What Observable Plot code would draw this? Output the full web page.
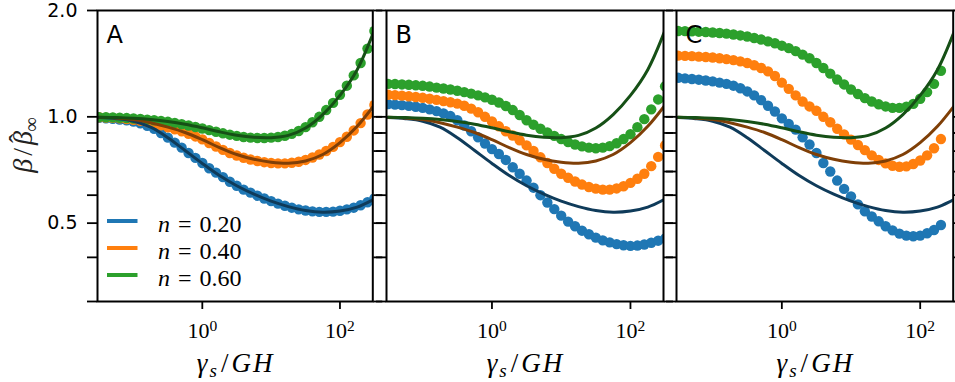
<!DOCTYPE html>
<html>
<head>
<meta charset="utf-8">
<script src="https://cdn.jsdelivr.net/npm/d3@7"></script>
<script src="https://cdn.jsdelivr.net/npm/@observablehq/plot@0.6"></script>
<style>
  html, body { margin: 0; padding: 0; background: #fff; overflow: hidden; }
  #chart { position: relative; width: 955px; height: 382px; }
  #chart > svg { position: absolute; left: 0; top: 0; }
  #chart text.serif, #chart text.serif tspan { font-family: "Liberation Serif", "DejaVu Serif", "Noto Serif", serif !important; }
</style>
</head>
<body>
<div id="chart"></div>
<script>
// ---- x positions (log10 of gamma_s / GH) ----
const expAB = [-1.5,-1.4,-1.3,-1.2,-1.1,-1.0,-0.9,-0.8,-0.7,-0.6,-0.5,-0.4,-0.3,-0.2,-0.1,0.0,0.1,0.2,0.3,0.4,0.5,0.6,0.7,0.8,0.9,1.0,1.1,1.2,1.3,1.4,1.5,1.6,1.7,1.8,1.9,2.0,2.1,2.2,2.3,2.4,2.5];
const expC  = [-1.5,-1.4,-1.3,-1.2,-1.1,-1.0,-0.9,-0.8,-0.7,-0.6,-0.5,-0.4,-0.3,-0.2,-0.1,0.0,0.1,0.2,0.3,0.4,0.5,0.6,0.7,0.8,0.9,1.0,1.1,1.2,1.3,1.4,1.5,1.6,1.7,1.8,1.9,2.0,2.1,2.2,2.3];
const expLine = [-1.5,-1.25,-1.0,-0.75,-0.5,-0.25,0,0.25,0.5,0.75,1.0,1.25,1.5,1.75,2.0,2.25,2.5];

// ---- theory curves (same in all panels) ----
const theoryN020 = [0.995,0.988,0.972,0.935,0.873,0.803,0.738,0.682,0.638,0.604,0.577,0.557,0.543,0.537,0.541,0.555,0.585];
const theoryN040 = [0.997,0.993,0.982,0.962,0.935,0.903,0.862,0.818,0.782,0.758,0.744,0.739,0.75,0.782,0.845,0.94,1.08];
const theoryN060 = [0.998,0.995,0.99,0.982,0.97,0.953,0.931,0.907,0.887,0.875,0.873,0.886,0.93,1.015,1.15,1.36,1.76];

// ---- panel A points ----
const dotsA_n020 = [0.993,0.99,0.987,0.982,0.977,0.97,0.958,0.943,0.925,0.90,0.873,0.845,0.818,0.79,0.765,0.74,0.715,0.695,0.675,0.655,0.638,0.622,0.61,0.598,0.587,0.577,0.568,0.56,0.553,0.547,0.543,0.54,0.538,0.538,0.539,0.542,0.547,0.553,0.562,0.573,0.587];
const dotsA_n040 = [0.997,0.995,0.993,0.99,0.986,0.981,0.974,0.966,0.956,0.946,0.934,0.922,0.91,0.895,0.88,0.863,0.843,0.824,0.806,0.79,0.777,0.766,0.757,0.75,0.744,0.74,0.738,0.738,0.741,0.746,0.755,0.767,0.782,0.80,0.822,0.848,0.878,0.915,0.96,1.015,1.08];
const dotsA_n060 = [0.998,0.997,0.996,0.994,0.992,0.989,0.986,0.982,0.978,0.973,0.968,0.961,0.953,0.945,0.936,0.927,0.917,0.907,0.898,0.89,0.883,0.877,0.873,0.871,0.871,0.873,0.877,0.884,0.895,0.912,0.935,0.965,1.0,1.045,1.095,1.155,1.225,1.31,1.42,1.56,1.75];

// ---- panel B points ----
const dotsB_n020 = [1.086,1.083,1.079,1.074,1.068,1.06,1.05,1.038,1.023,1.005,0.978,0.945,0.91,0.875,0.84,0.81,0.785,0.755,0.72,0.69,0.66,0.63,0.60,0.572,0.548,0.525,0.505,0.49,0.476,0.465,0.455,0.447,0.441,0.436,0.433,0.431,0.432,0.435,0.44,0.446,0.452];
const dotsB_n040 = [1.155,1.152,1.148,1.143,1.138,1.132,1.125,1.117,1.108,1.10,1.09,1.075,1.055,1.03,1.0,0.97,0.94,0.91,0.885,0.858,0.83,0.80,0.768,0.74,0.713,0.69,0.672,0.656,0.643,0.633,0.626,0.622,0.622,0.627,0.636,0.65,0.668,0.69,0.725,0.77,0.83];
const dotsB_n060 = [1.24,1.238,1.235,1.232,1.228,1.224,1.218,1.21,1.203,1.195,1.185,1.175,1.163,1.15,1.135,1.118,1.098,1.073,1.045,1.012,0.978,0.95,0.925,0.903,0.883,0.865,0.848,0.835,0.825,0.818,0.815,0.818,0.826,0.842,0.865,0.893,0.935,0.985,1.05,1.12,1.22];

// ---- panel C points ----
const dotsC_n020 = [1.29,1.285,1.28,1.274,1.267,1.26,1.25,1.24,1.225,1.205,1.18,1.15,1.115,1.075,1.035,0.99,0.955,0.92,0.875,0.835,0.79,0.74,0.70,0.66,0.625,0.595,0.565,0.54,0.522,0.506,0.49,0.477,0.467,0.461,0.459,0.461,0.468,0.478,0.494];
const dotsC_n040 = [1.49,1.488,1.485,1.481,1.477,1.472,1.465,1.457,1.447,1.435,1.42,1.40,1.375,1.345,1.305,1.25,1.20,1.15,1.105,1.07,1.04,1.0,0.965,0.925,0.892,0.862,0.832,0.805,0.778,0.755,0.738,0.727,0.722,0.724,0.735,0.752,0.778,0.815,0.865];
const dotsC_n060 = [1.75,1.748,1.745,1.742,1.738,1.733,1.727,1.72,1.71,1.70,1.688,1.672,1.655,1.635,1.615,1.59,1.565,1.535,1.50,1.465,1.42,1.375,1.325,1.275,1.235,1.195,1.16,1.13,1.105,1.085,1.07,1.06,1.06,1.068,1.088,1.125,1.175,1.24,1.35];

// ---- labels / ticks ----
const seriesN = ["0.20", "0.40", "0.60"];
const panelLetters = ["A", "B", "C"];
const xTicks = [1, 100];
const xTickExponents = ["0", "2"];
const yTicks = [0.3, 0.4, 0.5, 0.6, 0.7, 0.8, 0.9, 1, 2];
const yTickLabels = {0.5: "0.5", 1: "1.0", 2: "2.0"};

const dotColors = ["#1f77b4", "#ff7f0e", "#2ca02c"];
const lineColors = ["#0f3b5a", "#7f3f07", "#165016"];

(function draw() {
  const W = 955, H = 382;
  const frameTop = 10, frameBottom = 301;
  const panels = [
    {letter: panelLetters[0], left: 97,  right: 372.3, exps: expAB, dots: [dotsA_n020, dotsA_n040, dotsA_n060], yLabels: true},
    {letter: panelLetters[1], left: 386, right: 663,   exps: expAB, dots: [dotsB_n020, dotsB_n040, dotsB_n060], yLabels: false},
    {letter: panelLetters[2], left: 676, right: 952.7, exps: expC,  dots: [dotsC_n020, dotsC_n040, dotsC_n060], yLabels: false}
  ];
  const theory = [theoryN020, theoryN040, theoryN060];
  const chart = document.getElementById("chart");

  panels.forEach(p => {
    const marks = [];
    p.dots.forEach((vals, i) => {
      const rows = p.exps.map((e, j) => ({x: Math.pow(10, e), y: vals[j]}));
      marks.push(Plot.dot(rows, {x: "x", y: "y", r: 5.2, fill: dotColors[i], stroke: "none", clip: true}));
    });
    theory.forEach((vals, i) => {
      const rows = expLine.map((e, j) => ({x: Math.pow(10, e), y: vals[j]}));
      marks.push(Plot.line(rows, {x: "x", y: "y", stroke: lineColors[i], strokeWidth: 3, curve: "catmull-rom", clip: true}));
    });
    marks.push(Plot.text([p.letter], {text: d => d, frameAnchor: "top-left", dx: 9, dy: 15, lineAnchor: "top", textAnchor: "start", fontSize: 24, fontFamily: "DejaVu Sans", fill: "black"}));
    marks.push(Plot.axisX({ticks: xTicks, tickSize: 8, tickPadding: 13, strokeWidth: 1.8, label: null,
      tickFormat: d => "10" + xTickExponents[xTicks.indexOf(d)], fontSize: 22}));
    marks.push(Plot.axisY({anchor: "left", ticks: yTicks, tickSize: 10, tickPadding: 10, strokeWidth: 1.8, label: null,
      tickFormat: d => p.yLabels ? (yTickLabels[d] || "") : "", fontSize: 19, fontFamily: "DejaVu Sans"}));
    marks.push(Plot.axisY({anchor: "right", ticks: yTicks, tickSize: 9, strokeWidth: 1.8, label: null, tickFormat: () => ""}));
    marks.push(Plot.frame({stroke: "black", strokeWidth: 2}));

    const svg = Plot.plot({
      width: W, height: H,
      marginLeft: p.left, marginRight: W - p.right, marginTop: frameTop, marginBottom: H - frameBottom,
      style: {background: "transparent", overflow: "visible", color: "black", fontFamily: "DejaVu Sans"},
      x: {type: "log", domain: [0.03, 300], axis: null},
      y: {type: "log", domain: [0.3, 2], axis: null},
      marks
    });
    chart.appendChild(svg);
    const s = d3.select(svg);

    // superscript exponents on x tick labels (serif, like mathtext)
    s.selectAll('g[aria-label="x-axis tick label"] text').each(function() {
      const t = d3.select(this).classed("serif", true).style("font-size", "22px");
      const txt = t.text();
      t.text("");
      t.append("tspan").text(txt.slice(0, 2));
      t.append("tspan").attr("dy", "-7").style("font-size", "15.5px").text(txt.slice(2));
    });

    // x axis title
    const cx = (p.left + p.right) / 2;
    const xl = s.append("text").attr("class", "serif").attr("x", cx).attr("y", 371.5).attr("text-anchor", "middle")
      .attr("font-size", 27).attr("fill", "black");
    xl.append("tspan").attr("font-style", "italic").text("γ");
    xl.append("tspan").attr("font-style", "italic").attr("font-size", 19).attr("dy", 5).attr("dx", 2).text("s");
    xl.append("tspan").attr("dy", -5).attr("dx", 4).text("/");
    xl.append("tspan").attr("font-style", "italic").attr("dx", 3).text("G");
    xl.append("tspan").attr("font-style", "italic").attr("dx", 2).text("H");

    if (p.yLabels) {
      const yl = s.append("text").attr("class", "serif").attr("transform", "translate(32,145) rotate(-90)").attr("text-anchor", "middle")
        .attr("font-size", 28).attr("fill", "#222");
      yl.append("tspan").attr("font-style", "italic").text("β");
      yl.append("tspan").attr("dx", 3).text("/");
      yl.append("tspan").attr("font-style", "italic").attr("dx", 3).text("β");
      yl.append("tspan").attr("dx", -12).attr("dy", -4).text("\u02C6");
      yl.append("tspan").attr("font-size", 20).attr("dx", 2).attr("dy", 10).text("∞");

      const lg = s.append("g").attr("text-anchor", "start");
      seriesN.forEach((n, i) => {
        const y = 221 + i * 27;
        lg.append("line").attr("x1", 107).attr("x2", 137.5).attr("y1", y).attr("y2", y)
          .attr("stroke", dotColors[i]).attr("stroke-width", 4);
        const t = lg.append("text").attr("class", "serif").attr("x", 158).attr("y", y + 10.5).attr("text-anchor", "start")
          .attr("font-size", 24).attr("fill", "black");
        t.append("tspan").attr("font-style", "italic").text("n");
        t.append("tspan").attr("dx", 8).text("=");
        t.append("tspan").attr("dx", 8).text(n);
      });
    }
  });
})();
</script>
</body>
</html>
